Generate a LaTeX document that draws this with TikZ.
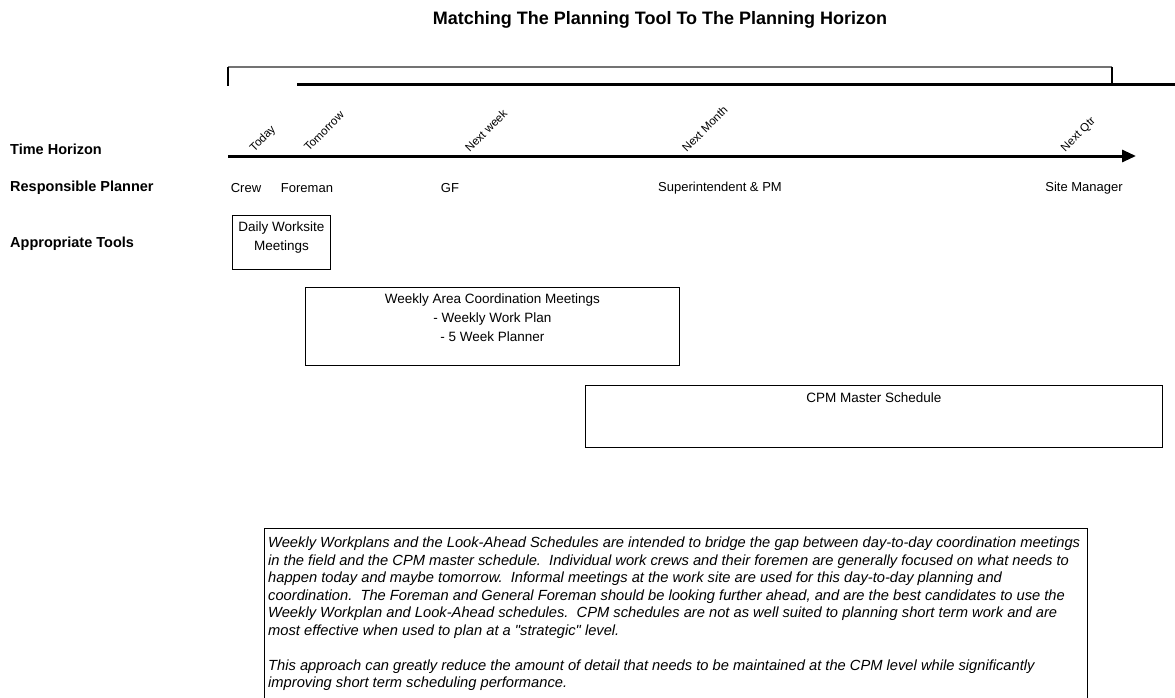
\documentclass[tikz,border=0pt]{standalone}
\usepackage{fontspec}
\setmainfont{Liberation Sans}
\newfontfamily\notefont{Liberation Sans}
\usetikzlibrary{arrows.meta}
\begin{document}
\begin{tikzpicture}[x=1pt,y=-1pt,
  hdr/.style={font=\fontsize{14.5}{16}\selectfont\bfseries, anchor=west, inner sep=0pt},
  plan/.style={font=\fontsize{13}{15}\selectfont, inner sep=0pt},
  tick/.style={font=\fontsize{11.5}{13}\selectfont, rotate=45, anchor=south west, inner sep=0pt},
  toolbox/.style={draw, line width=0.9pt, anchor=north west, inner sep=0pt},
  boxtext/.style={font=\fontsize{13.5}{19}\selectfont, align=center, anchor=north, inner sep=0pt},
  axisline/.style={line width=3pt, -{Triangle[length=14pt,width=12pt]}},
  bracket/.style={line width=1.5pt}
]
\useasboundingbox (0,0) rectangle (1175,698);

% title
\node[font=\fontsize{18}{21}\selectfont\bfseries, inner sep=0pt] (title) at (660,20) {Matching The Planning Tool To The Planning Horizon};

% top bracket
\coordinate (bl) at (228,86);
\coordinate (btl) at (228,67);
\coordinate (btr) at (1112,67);
\coordinate (br) at (1112,85);
\coordinate (hl) at (297,85);
\coordinate (hr) at (1175,85);
\draw[bracket, black!55] (btl) -- (btr);
\draw[bracket] (bl) -- (btl);
\draw[bracket] (btr) -- (br);
\draw[line width=3pt] (hl) -- (hr);

% row labels
\node[hdr] (th) at (10,149) {Time Horizon};
\node[hdr] (rp) at (10,188) {Responsible Planner};
\node[hdr] (at) at (10,244) {Appropriate Tools};

% axis
\coordinate (axL) at (228,156);
\coordinate (axR) at (1136,156);
\draw[axisline] (axL) -- (axR);

% tick labels
\node[tick] (t1) at (256,154) {Today};
\node[tick] (t2) at (309,152) {Tomorrow};
\node[tick] (t3) at (470,153) {Next week};
\node[tick] (t4) at (687,153) {Next Month};
\node[tick] (t5) at (1067,154) {Next Qtr};

% planners
\node[plan] (p1) at (246,188) {Crew};
\node[plan] (p2) at (307,188) {Foreman};
\node[plan] (p3) at (450,188) {GF};
\node[plan] (p4) at (720,188) {Superintendent \& PM};
\node[plan] (p5) at (1084,188) {Site Manager};

% tool boxes
\node[toolbox, minimum width=98pt, minimum height=54pt] (daily) at (232,215) {};
\node[boxtext] (dailyt) at ([yshift=-7pt]daily.north) {Daily Worksite\\Meetings};

\node[toolbox, minimum width=374pt, minimum height=78pt] (weekly) at (305,287) {};
\node[boxtext] (weeklyt) at ([yshift=-7pt]weekly.north) {Weekly Area Coordination Meetings\\- Weekly Work Plan\\- 5 Week Planner};

\node[toolbox, minimum width=577pt, minimum height=62pt] (cpm) at (585,385) {};
\node[boxtext] (cpmt) at ([yshift=-8pt]cpm.north) {CPM Master Schedule};

% note box
\node[toolbox, minimum width=823pt, minimum height=200pt] (note) at (264,528) {};
\node[font=\notefont\fontsize{14.7}{17.5}\selectfont\itshape, align=left, anchor=north west, inner sep=0pt] (notet) at (268,537) {%
Weekly Workplans and the Look-Ahead Schedules are intended to bridge the gap between day-to-day coordination meetings\\
in the field and the CPM master schedule.\ \ Individual work crews and their foremen are generally focused on what needs to\\
happen today and maybe tomorrow.\ \ Informal meetings at the work site are used for this day-to-day planning and\\
coordination.\ \ The Foreman and General Foreman should be looking further ahead, and are the best candidates to use the\\
Weekly Workplan and Look-Ahead schedules.\ \ CPM schedules are not as well suited to planning short term work and are\\
most effective when used to plan at a "strategic" level.\\
\mbox{}\\
This approach can greatly reduce the amount of detail that needs to be maintained at the CPM level while significantly\\
improving short term scheduling performance.};
\end{tikzpicture}
\end{document}
